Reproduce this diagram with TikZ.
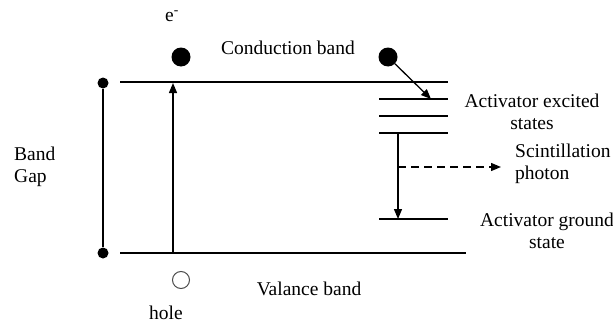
\documentclass[tikz,border=0pt]{standalone}
\usepackage{fontspec}
\setmainfont{Liberation Serif}
\usetikzlibrary{arrows.meta}
\begin{document}
\begin{tikzpicture}[x=1pt,y=-1pt,
  lvl/.style={line width=1.3pt},
  arr/.style={line width=1.3pt,-{Triangle[length=10pt,width=8pt]}},
  dot/.style={circle,fill=black,inner sep=0pt,minimum size=11pt},
  elec/.style={circle,fill=black,inner sep=0pt,minimum size=19pt},
  holec/.style={circle,draw=black!70,line width=1pt,inner sep=0pt,minimum size=17pt},
  lbl/.style={inner sep=0pt,font=\fontsize{19.5}{21.5}\selectfont}]
\useasboundingbox (0,0) rectangle (613,324);
% bands
\coordinate (cbL) at (120,82);
\coordinate (cbR) at (448,82);
\coordinate (vbL) at (120,253);
\coordinate (vbR) at (466,253);
\draw[lvl] (cbL) -- (cbR);
\draw[lvl] (vbL) -- (vbR);
% band gap
\node[dot] (gt) at (103,83) {};
\node[dot] (gb) at (103,253) {};
\draw[lvl] (gt) -- (gb);
\node[lbl,align=left,anchor=west] (bg) at (14,167) {Band\\Gap};
% excitation arrow
\coordinate (exb) at (173,253);
\coordinate (ext) at (173,83);
\draw[arr] (exb) -- (ext);
% electrons and hole
\node[elec] (e1) at (181,57) {};
\node[lbl] (el) at (172,16) {e\textsuperscript{-}};
\node[elec] (e2) at (388,57) {};
\node[holec] (h) at (181,280) {};
\node[lbl] (hl) at (166,313) {hole};
\node[lbl] (cb) at (288,48) {Conduction band};
\node[lbl] (vb) at (309,289) {Valance band};
% activator levels
\coordinate (a1L) at (379,99);  \coordinate (a1R) at (448,99);
\coordinate (a2L) at (379,116); \coordinate (a2R) at (448,116);
\coordinate (a3L) at (379,133); \coordinate (a3R) at (448,133);
\coordinate (agL) at (379,219); \coordinate (agR) at (448,219);
\draw[lvl] (a1L) -- (a1R);
\draw[lvl] (a2L) -- (a2R);
\draw[lvl] (a3L) -- (a3R);
\draw[lvl] (agL) -- (agR);
\coordinate (tip1) at (431,99);
\draw[arr] (e2) -- (tip1);
\coordinate (dtop) at (398,133);
\coordinate (dbot) at (398,219);
\draw[arr] (dtop) -- (dbot);
\coordinate (ph0) at (398,167);
\coordinate (ph1) at (501,167);
\draw[arr,dash pattern=on 8pt off 5pt] (ph0) -- (ph1);
\node[lbl,align=center] (ae) at (532,112) {Activator excited\\states};
\node[lbl,align=left,anchor=west] (sp) at (515,164) {Scintillation\\photon};
\node[lbl,align=center] (ag) at (547,231) {Activator ground\\state};
\end{tikzpicture}
\end{document}
